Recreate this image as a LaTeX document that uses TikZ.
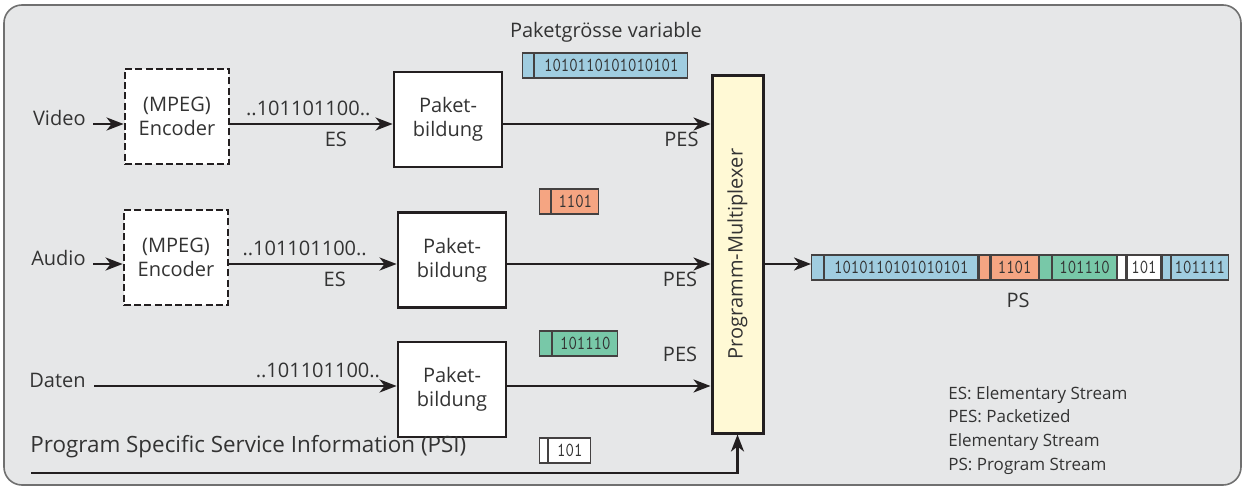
\documentclass[tikz,border=0pt]{standalone}
\usepackage{fontspec}
\setmainfont{Open Sans}
\newfontfamily\pktfont[FakeStretch=0.8]{Latin Modern Mono}
\usetikzlibrary{arrows.meta,positioning}
\definecolor{bgGray}{HTML}{E6E7E8}
\definecolor{frameGray}{HTML}{707070}
\definecolor{inkDark}{HTML}{231F20}
\definecolor{txtDark}{HTML}{333333}
\definecolor{muxYellow}{HTML}{FFF9D5}
\definecolor{pBlue}{HTML}{A0CDE0}
\definecolor{pOrange}{HTML}{F5A582}
\definecolor{pGreen}{HTML}{78C8A8}

\begin{document}
\begin{tikzpicture}[
  x=0.5pt,y=-0.5pt,
  font=\fontsize{10}{12}\selectfont,
  every node/.style={text=txtDark},
  lbl/.style={inner sep=1pt},
  enc/.style={draw=inkDark,fill=white,line width=1.4pt,dash pattern=on 3.5pt off 1.6pt,
    minimum width=52pt,minimum height=47.5pt,align=center,inner sep=0pt},
  pbox/.style={draw=inkDark,fill=white,line width=1.4pt,
    minimum width=54pt,minimum height=47.5pt,align=center,inner sep=0pt},
  mux/.style={draw=inkDark,fill=muxYellow,line width=1.5pt,
    minimum width=25.5pt,minimum height=179pt,inner sep=0pt},
  arr/.style={-{Stealth[length=8.5pt,width=6.5pt,inset=2.5pt]},inkDark,line width=1.3pt},
  pkthead/.style={draw=inkDark!85,line width=0.6pt,minimum height=12.5pt,inner sep=0pt},
  pktbody/.style={draw=inkDark!85,line width=0.6pt,minimum height=12.5pt,inner sep=0pt,
    font=\pktfont\fontsize{10}{11}\selectfont}
]
  \useasboundingbox (0,0) rectangle (1243,487);
  \draw[frameGray,fill=bgGray,line width=0.8pt,rounded corners=9pt] (4,5) rectangle (1241,485);

  % signal rows
  \coordinate (rowv) at (0,124);
  \coordinate (rowa) at (0,264);
  \coordinate (rowd) at (0,386);
  \coordinate (psiin) at (31,473);

  % blocks
  \node[enc] (encv) at (177,116.5) {(MPEG)\\Encoder};
  \node[enc] (enca) at (176,257.5) {(MPEG)\\Encoder};
  \node[pbox] (pakv) at (448,119.5) {Paket-\\bildung};
  \node[pbox] (paka) at (452,260) {Paket-\\bildung};
  \node[pbox] (pakd) at (452,389.5) {Paket-\\bildung};
  \node[mux] (mux) at (737.5,254) {};
  \node[rotate=90] at (mux.center) {Programm-Multiplexer};

  % inputs
  \node[lbl,anchor=east] (vid) at (88,118) {Video};
  \node[lbl,anchor=east] (aud) at (88,258) {Audio};
  \node[lbl,anchor=east] (dat) at (88,380) {Daten};
  \node[lbl,anchor=west,font=\fontsize{11.2}{13}\selectfont] (psi) at (28,447)
    {Program Specific Service Information (PSI)};
  \coordinate (vidin) at (93,124);
  \coordinate (audin) at (93,264);
  \coordinate (datin) at (94,386);

  \draw[arr] (vidin) -- (vidin -| encv.west);
  \draw[arr] (audin) -- (audin -| enca.west);
  \draw[arr] (encv.east |- rowv) -- (pakv.west |- rowv)
    node[above,pos=0.48] {..101101100..} node[below,pos=0.65] {ES};
  \draw[arr] (enca.east |- rowa) -- (paka.west |- rowa)
    node[above,pos=0.45] {..101101100..} node[below,pos=0.63] {ES};
  \draw[arr] (datin) -- (pakd.west |- rowd)
    node[above,pos=0.74] {..101101100..};

  % PES into multiplexer
  \draw[arr] (pakv.east |- rowv) -- (mux.west |- rowv) node[below,pos=0.86] {PES};
  \draw[arr] (paka.east |- rowa) -- (mux.west |- rowa) node[below,pos=0.85] {PES};
  \draw[arr] (pakd.east |- rowd) -- (mux.west |- rowd) node[above=8pt,pos=0.85] {PES};
  \draw[arr] (psiin) -| (mux.south);

  % single packets
  \node[lbl] (varlbl) at (606,32) {Paketgrösse variable};
  \node[pkthead,fill=pBlue,minimum width=5.5pt,anchor=west] (vph) at (522,65.5) {};
  \node[pktbody,fill=pBlue,minimum width=76.5pt,right=0pt of vph] (vpb) {1010110101010101};
  \node[pkthead,fill=pOrange,minimum width=5.5pt,anchor=west] (aph) at (539,201.5) {};
  \node[pktbody,fill=pOrange,minimum width=23.5pt,right=0pt of aph] (apb) {1101};
  \node[pkthead,fill=pGreen,minimum width=6pt,anchor=west] (dph) at (539,343.5) {};
  \node[pktbody,fill=pGreen,minimum width=32.5pt,right=0pt of dph] (dpb) {101110};
  \node[pkthead,fill=white,minimum width=4pt,anchor=west] (sph) at (539,450.5) {};
  \node[pktbody,fill=white,minimum width=21pt,right=0pt of sph] (spb) {101};

  % program stream
  \node[pkthead,fill=pBlue,minimum width=6pt,anchor=west] (ps1h) at (811,267.5) {};
  \node[pktbody,fill=pBlue,minimum width=76.5pt,right=0pt of ps1h] (ps1b) {1010110101010101};
  \node[pkthead,fill=pOrange,minimum width=5.5pt,right=0pt of ps1b] (ps2h) {};
  \node[pktbody,fill=pOrange,minimum width=23.5pt,right=0pt of ps2h] (ps2b) {1101};
  \node[pkthead,fill=pGreen,minimum width=6pt,right=0pt of ps2b] (ps3h) {};
  \node[pktbody,fill=pGreen,minimum width=32pt,right=0pt of ps3h] (ps3b) {101110};
  \node[pkthead,fill=white,minimum width=4pt,right=0pt of ps3b] (ps4h) {};
  \node[pktbody,fill=white,minimum width=17pt,right=0pt of ps4h] (ps4b) {101};
  \node[pkthead,fill=pBlue,minimum width=4pt,right=0pt of ps4b] (ps5h) {};
  \node[pktbody,fill=pBlue,minimum width=28.5pt,right=0pt of ps5h] (ps5b) {101111};
  \draw[arr] (mux.east |- rowa) -- (ps1h.west |- rowa);
  \node[lbl] (pslbl) at (1018,300) {PS};

  % legend
  \node[lbl,anchor=north west,align=left,font=\fontsize{8.5}{11.8}\selectfont] (legend) at (946,384)
    {ES: Elementary Stream\\PES: Packetized\\Elementary Stream\\PS: Program Stream};
\end{tikzpicture}
\end{document}
